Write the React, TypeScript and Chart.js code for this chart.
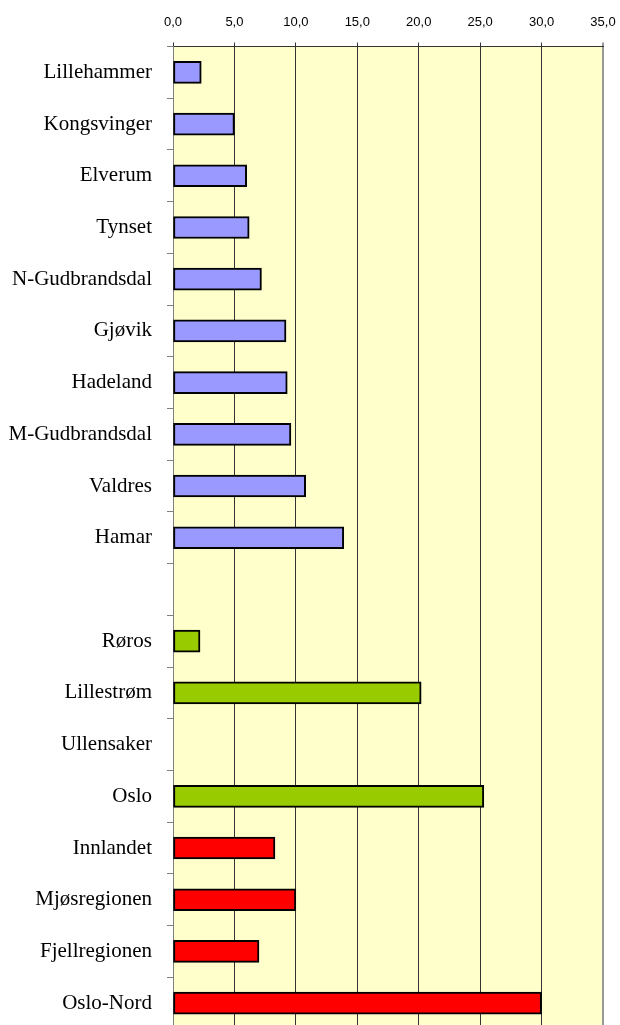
import React, { useEffect, useRef } from "react";
import { Chart, registerables } from "chart.js";

Chart.register(...registerables);

const categories = [
  "Lillehammer",
  "Kongsvinger",
  "Elverum",
  "Tynset",
  "N-Gudbrandsdal",
  "Gjøvik",
  "Hadeland",
  "M-Gudbrandsdal",
  "Valdres",
  "Hamar",
  "",
  "Røros",
  "Lillestrøm",
  "Ullensaker",
  "Oslo",
  "Innlandet",
  "Mjøsregionen",
  "Fjellregionen",
  "Oslo-Nord",
];

const values: (number | null)[] = [
  2.3, 5.0, 6.0, 6.2, 7.2, 9.2, 9.3, 9.6, 10.8, 13.9,
  null,
  2.2, 20.2, null, 25.3,
  8.3, 10.0, 7.0, 30.0,
];

const groups = [
  "blue", "blue", "blue", "blue", "blue", "blue", "blue", "blue", "blue", "blue",
  "none",
  "green", "green", "green", "green",
  "red", "red", "red", "red",
];

const groupColors: Record<string, string> = {
  blue: "#9999FF",
  green: "#99CC00",
  red: "#FF0000",
  none: "#FFFFFF",
};

const xTicks = [0, 5, 10, 15, 20, 25, 30, 35];

const plotBg = {
  id: "plotBg",
  beforeDraw(chart: any) {
    const { ctx, chartArea } = chart;
    ctx.save();
    ctx.fillStyle = "#FFFFCC";
    ctx.fillRect(chartArea.left, chartArea.top, chartArea.right - chartArea.left, chartArea.bottom - chartArea.top);
    ctx.restore();
  },
};

export default function App() {
  const ref = useRef<HTMLCanvasElement | null>(null);

  useEffect(() => {
    if (!ref.current) return;
    const chart = new Chart(ref.current, {
      type: "bar",
      data: {
        labels: categories,
        datasets: [
          {
            data: values,
            backgroundColor: groups.map((g) => groupColors[g]),
            borderColor: "#000000",
            borderWidth: 2,
            borderSkipped: false,
            barThickness: 22,
          },
        ],
      },
      options: {
        indexAxis: "y",
        animation: false,
        responsive: false,
        devicePixelRatio: 1,
        layout: { padding: { left: 0, top: 0, right: 17, bottom: 11 } },
        plugins: {
          legend: { display: false },
          tooltip: { enabled: false },
        },
        scales: {
          x: {
            position: "top",
            min: xTicks[0],
            max: xTicks[xTicks.length - 1],
            afterFit: (s: any) => {
              s.height = 46.5;
              s.paddingLeft = 0;
              s.paddingRight = 0;
              s.paddingTop = 0;
              s.paddingBottom = 0;
            },
            afterBuildTicks: (s: any) => {
              s.ticks = xTicks.map((v) => ({ value: v }));
            },
            ticks: {
              stepSize: 5,
              color: "#000000",
              padding: 12,
              font: { family: "'Liberation Sans', Arial, sans-serif", size: 13 },
              callback: (v: any) => Number(v).toFixed(1).replace(".", ","),
            },
            grid: {
              color: (c: any) => (c.tick && c.tick.value === 35 ? "#999999" : "#333333"),
              lineWidth: (c: any) => (c.tick && c.tick.value === 35 ? 2 : 1),
              tickLength: 4,
              drawTicks: true,
            },
            border: { display: true, color: "#333333", width: 1 },
          },
          y: {
            afterFit: (s: any) => {
              s.width = 173;
              s.paddingLeft = 0;
              s.paddingRight = 0;
              s.paddingTop = 0;
              s.paddingBottom = 0;
            },
            ticks: {
              color: "#000000",
              padding: 15,
              font: { family: "'Liberation Serif', 'Times New Roman', serif", size: 21 },
            },
            grid: {
              drawOnChartArea: false,
              drawTicks: true,
              tickLength: 6,
              color: "#808080",
              offset: true,
            },
            border: { display: true, color: "#808080", width: 1 },
          },
        },
      },
      plugins: [plotBg],
    });
    return () => chart.destroy();
  }, []);

  return (
    <div
      style={{
        position: "fixed",
        left: 0,
        top: 0,
        width: 620,
        height: 1025,
        overflow: "hidden",
        background: "#ffffff",
      }}
    >
      <canvas ref={ref} width={620} height={1040} style={{ display: "block" }} />
    </div>
  );
}
